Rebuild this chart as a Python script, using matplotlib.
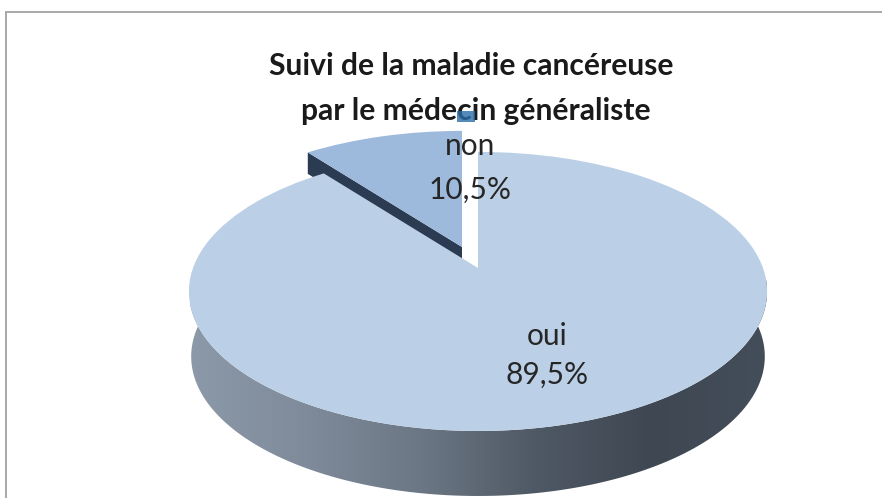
import numpy as np
import matplotlib
matplotlib.use("Agg")
import matplotlib.pyplot as plt
from matplotlib.path import Path
from matplotlib.patches import PathPatch, Rectangle
from matplotlib.colors import LinearSegmentedColormap
from matplotlib.transforms import Transform, Affine2D

title_lines = ["Suivi de la maladie cancéreuse", "par le médecin généraliste"]
categories = ["non", "oui"]
values = [10.5, 89.5]
value_labels = ["10,5%", "89,5%"]
top_colors = ["#9DB9DC", "#BBD0E7"]
side_stops = ["#8C99A9", "#7F8B9A", "#6C7785", "#4F5965", "#3E4752", "#444E5A"]

plt.rcParams["font.family"] = ["Lato", "DejaVu Sans"]
W, H = 882, 498
CX, CY, A, B, K, DEPTH = 478.0, 268.0, 135.6, 285.0, 0.168, 65.0
SHIFT = (-16, -21)


class Persp(Transform):
    input_dims = output_dims = 2
    is_affine = False
    has_inverse = False

    def transform_non_affine(self, xy):
        xy = np.asarray(xy, float)
        u, v = xy[:, 0], xy[:, 1]
        d = 1 + K * v
        return np.column_stack([CX + B * u / d, CY - A * v / d])

    def transform_path_non_affine(self, path):
        return Path(self.transform_non_affine(path.vertices), path.codes)


persp = Persp()
fig = plt.figure(figsize=(W / 100, H / 100), dpi=100, facecolor="white")
ax = fig.add_axes([0, 0, 1, 1])
wedges, _ = ax.pie(values, startangle=90, radius=1.0)
ax.set_aspect("auto")
ax.set_xlim(0, W)
ax.set_ylim(H, 0)
ax.axis("off")


def ring(t):
    return persp.transform_non_affine(np.column_stack([np.cos(t), np.sin(t)]))


# frame: only the top and left rules are visible in the crop
ax.plot([6, 6, W], [H, 12, 12], color="#A8A8A8", lw=1.4, zorder=0, solid_joinstyle="miter")

# side wall of the disc, with horizontal shading clipped to the front outline
t = np.radians(np.linspace(172, 368, 200))
front = ring(t)
lower = front + [0, DEPTH]
lower[:, 0] = CX + (lower[:, 0] - CX) * 0.992
outline = np.vstack([front, lower[::-1]])
clip = PathPatch(Path(np.vstack([outline, outline[:1]]), closed=True), transform=ax.transData,
                 fc="none", ec="none")
ax.add_patch(clip)
cmap = LinearSegmentedColormap.from_list("side", side_stops)
im = ax.imshow(np.linspace(0, 1, 256)[None, :], extent=(190, 767, 498, 280), cmap=cmap,
               aspect="auto", zorder=1)
im.set_clip_path(clip)
ax.set_xlim(0, W)
ax.set_ylim(H, 0)

# detached slice
shift = Affine2D().translate(*SHIFT)
non, oui = wedges
ang = np.radians(90 + 360 * values[0] / sum(values))
edge = persp.transform_non_affine(np.array([[0, 0], [np.cos(ang), np.sin(ang)]])) + SHIFT
band = np.array([edge[0], edge[1], edge[1] + [0, DEPTH * .33], edge[0] + [0, DEPTH * .33]])
ax.fill(band[:, 0], band[:, 1], color="#2A3B52", lw=0, zorder=2)
non.set(transform=persp + shift + ax.transData, facecolor=top_colors[0], edgecolor="none", zorder=3)
oui.set(transform=persp + ax.transData, facecolor=top_colors[1], edgecolor="none", zorder=4)

ts = dict(ha="center", va="center", color="#262626", fontsize=21.5, zorder=6)
ax.text(470, 146, categories[0], **ts)
ax.text(470, 190, value_labels[0], **ts)
ax.text(547, 336, categories[1], **ts)
ax.text(547, 375, value_labels[1], **ts)
ax.text(471, 66, title_lines[0], ha="center", va="center", fontsize=21.6,
        fontweight="bold", color="#1A1A1A", zorder=6)
ax.text(476, 111, title_lines[1], ha="center", va="center", fontsize=21.6,
        fontweight="bold", color="#1A1A1A", zorder=6)
ax.add_patch(Rectangle((457, 111), 18, 11, fc="#2A6DA8", ec="none", alpha=0.8, zorder=7))
fig.savefig("out.png", dpi=100)
